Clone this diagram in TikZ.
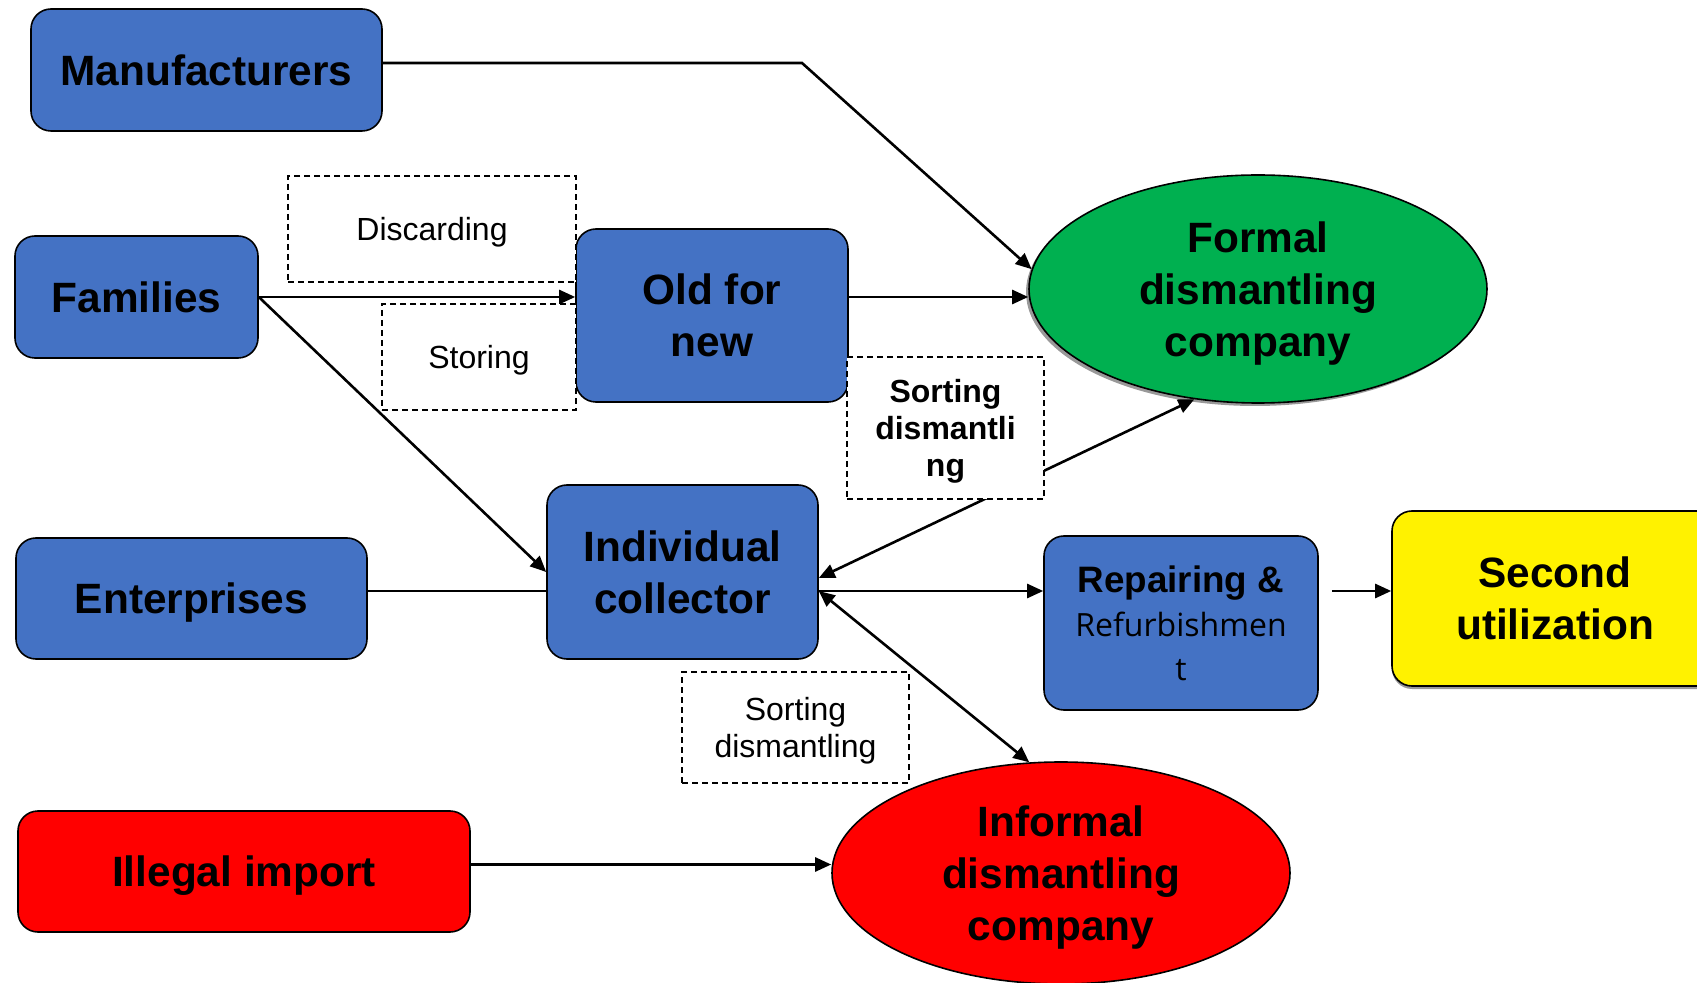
\documentclass[tikz,border=0pt]{standalone}
\usepackage{fontspec}
\setmainfont{Liberation Sans}
\newfontfamily\refont{Open Sans}
\usetikzlibrary{arrows.meta,shapes.geometric,shadows}
\definecolor{boxblue}{HTML}{4472C4}
\definecolor{formgreen}{HTML}{00B050}

\begin{document}
\begin{tikzpicture}[x=0.5pt,y=-0.5pt]
\tikzstyle{blk}=[rectangle, rounded corners=10pt, draw, line width=0.8pt, fill=boxblue, text depth=-2pt,
                        align=center, font=\fontsize{21.2}{26}\selectfont\bfseries]
\tikzstyle{oval}=[ellipse, draw, line width=0.8pt, inner sep=0pt, text depth=-2pt,
                        align=center, font=\fontsize{21.2}{26}\selectfont\bfseries]
\tikzstyle{lbl}=[rectangle, draw, dash pattern=on 3pt off 2pt, fill=white, line width=0.6pt, text depth=-1.5pt,
                        align=center, font=\fontsize{16}{18.5}\selectfont]
\tikzstyle{arr}=[line width=1.3pt, -{Triangle[length=8pt,width=7pt]}]
\tikzstyle{darr}=[line width=1.3pt, {Triangle[length=8pt,width=7pt]}-{Triangle[length=8pt,width=7pt]}]
\useasboundingbox (0,0) rectangle (1697,983);
	\node[blk, minimum width=175.5pt, minimum height=61pt] (M) at (206.5,70){Manufacturers};
	\node[blk, minimum width=121.5pt, minimum height=61pt] (F) at (136.5,297){Families};
	\node[blk, minimum width=175.5pt, minimum height=60.5pt] (E) at (191.5,598.5){Enterprises};
	\node[blk, fill=red, minimum width=226pt, minimum height=60.5pt] (I) at (244,871.5){Illegal import};
	\node[blk, minimum width=136pt, minimum height=86.5pt] (O) at (712,315.5){Old for\\new};
	\node[blk, minimum width=135.5pt, minimum height=87pt] (C) at (682.5,572){Individual\\collector};
	\node[blk, minimum width=137pt, minimum height=87pt, text depth=0pt, font=\fontsize{16}{22}\selectfont] (R) at (1181,623)
		{\fontsize{18.4}{22}\selectfont\bfseries Repairing \&\\\refont Refurbishmen\\\refont t};
	\node[blk, fill=yellow, minimum width=163pt, minimum height=87.5pt,
		drop shadow={shadow xshift=0pt, shadow yshift=-1.5pt, opacity=0.8}] (S) at (1555,598.5){Second\\utilization};
	\node[oval, fill=formgreen, minimum width=229pt, minimum height=114pt,
		drop shadow={shadow xshift=-1.5pt, shadow yshift=-1.5pt, opacity=0.8}] (FD) at (1258,289){Formal\\dismantling\\company};
	\node[oval, fill=red, minimum width=229pt, minimum height=111pt] (ID) at (1061,873){Informal\\dismantling\\company};
	\coordinate (m1) at (802,63);
	\coordinate (row) at (0,591);
\draw[arr] ([yshift=3.5pt]M.east)--(m1)--(FD.175);
\draw[arr] (F.east)--(F.east -| O.west);
\draw[arr] (F.east -| O.east)--(F.east -| FD.west);
\draw[arr] (F.east)--(C.west);
\draw[line width=1.3pt] (E.east |- row)--(C.west |- row);
\draw[arr] (C.east |- row)--(R.west |- row);
\draw[arr] ([xshift=6.5pt]R.east |- row)--(S.west |- row);
\draw[darr] ([yshift=-3pt]C.east)--(FD.240);
\draw[darr] (C.east |- row)--(ID.106);
\draw[arr] ([yshift=3.5pt]I.east)--([yshift=3.5pt]I.east -| ID.west);
	\node[lbl, minimum width=144pt, minimum height=53pt] (D) at (432,229){Discarding};
	\node[lbl, minimum width=97pt, minimum height=53pt] (St) at (479,357){Storing};
	\node[lbl, minimum width=98.5pt, minimum height=71pt, font=\fontsize{16}{18.5}\selectfont\bfseries] (SB) at (945.5,428){Sorting\\dismantli\\ng};
	\node[lbl, minimum width=113.5pt, minimum height=55.5pt] (SN) at (795.5,727.5){Sorting\\dismantling};
\end{tikzpicture}
\end{document}
